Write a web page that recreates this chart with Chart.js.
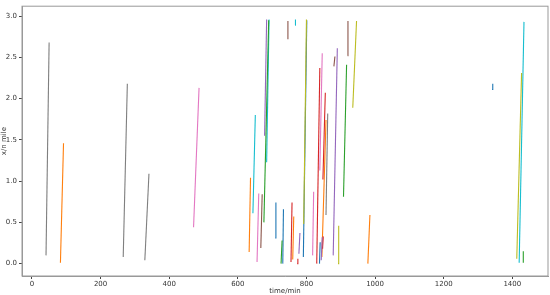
<!DOCTYPE html>
<html>
<head>
<meta charset="utf-8">
<script src="https://cdn.jsdelivr.net/npm/chart.js@4/dist/chart.umd.min.js"></script>
<style>
  html, body { margin: 0; padding: 0; background: #fff; }
  #wrap { width: 550px; height: 295px; }
</style>
</head>
<body>
<div id="wrap"><canvas id="chart"></canvas></div>
<script>
// each track segment: start (x0, y0) -> end (x1, y1)
const segX0 = [41, 83, 266, 329, 471, 633, 644, 656, 667, 676, 684, 678, 709, 726, 731, 746, 755, 760, 767, 773, 778, 792, 791, 818, 830, 839, 838, 843, 847, 848, 845, 857, 878, 880, 892, 908, 920, 935, 979, 1341, 1413, 1420, 1432];
const segY0 = [0.10, 0.01, 0.08, 0.04, 0.44, 0.14, 0.61, 0.02, 0.19, 0.50, 1.23, 1.55, 0.31, 0.00, 0.00, 2.72, 0.02, 0.05, 2.89, 0.00, 0.12, 0.48, 0.08, 0.10, 0.00, 1.13, 0.00, 0.04, 0.18, 1.02, 0.08, 0.59, 0.10, 2.39, 0.00, 0.81, 2.52, 1.89, 0.00, 2.11, 0.06, 0.01, 0.01];
const segX1 = [50, 92, 278, 341, 487, 637, 651, 661, 671, 690, 691, 684, 711, 729, 733, 746, 758, 763, 768, 775, 781, 800, 801, 821, 839, 846, 840, 846, 849, 855, 857, 862, 890, 883, 894, 917, 921, 946, 985, 1343, 1427, 1434, 1432];
const segY1 = [2.68, 1.46, 2.18, 1.09, 2.13, 1.04, 1.80, 0.85, 0.84, 2.95, 2.96, 2.96, 0.74, 0.28, 0.66, 2.94, 0.74, 0.57, 2.96, 0.06, 0.37, 2.96, 2.95, 0.87, 2.37, 2.55, 0.26, 0.32, 0.33, 2.07, 1.74, 1.82, 2.61, 2.51, 0.46, 2.41, 2.94, 2.94, 0.59, 2.18, 2.31, 2.93, 0.15];
const segColor = ['gray', 'orange', 'gray', 'gray', 'pink', 'orange', 'cyan', 'pink', 'brown', 'green', 'cyan', 'purple', 'blue', 'green', 'blue', 'brown', 'red', 'orange', 'cyan', 'red', 'purple', 'olive', 'blue', 'pink', 'red', 'pink', 'blue', 'purple', 'red', 'red', 'orange', 'gray', 'purple', 'brown', 'olive', 'green', 'brown', 'olive', 'orange', 'blue', 'olive', 'cyan', 'green'];

const xTicks = [0, 200, 400, 600, 800, 1000, 1200, 1400];
const yTicks = [0.0, 0.5, 1.0, 1.5, 2.0, 2.5, 3.0];

const tab10 = {
  blue: '#1f77b4', orange: '#ff7f0e', green: '#2ca02c', red: '#d62728', purple: '#9467bd',
  brown: '#8c564b', pink: '#e377c2', gray: '#7f7f7f', olive: '#bcbd22', cyan: '#17becf'
};

const datasets = segX0.map((x0, i) => ({
  data: [{ x: x0, y: segY0[i] }, { x: segX1[i], y: segY1[i] }],
  borderColor: tab10[segColor[i]],
  borderWidth: 1.1,
  pointRadius: 0,
  showLine: true,
  fill: false
}));

// matplotlib style frame on all four sides
const frame = {
  id: 'frame',
  afterDraw(chart) {
    const { ctx, chartArea: a } = chart;
    ctx.save();
    ctx.strokeStyle = '#999';
    ctx.lineWidth = 1;
    ctx.strokeRect(a.left, a.top, a.right - a.left, a.bottom - a.top);
    ctx.restore();
  }
};

const font = { family: 'DejaVu Sans', size: 7 };

new Chart(document.getElementById('chart'), {
  type: 'scatter',
  data: { datasets },
  plugins: [frame],
  options: {
    responsive: true,
    maintainAspectRatio: false,
    animation: false,
    layout: { padding: { top: 6, right: 2, left: 0, bottom: 0 } },
    plugins: { legend: { display: false }, tooltip: { enabled: false } },
    scales: {
      x: {
        type: 'linear',
        min: -29,
        max: 1504,
        afterBuildTicks: s => { s.ticks = xTicks.map(v => ({ value: v })); },
        afterFit: s => { s.height = 19; },
        grid: { drawOnChartArea: false, tickLength: 3, color: '#444' },
        border: { color: '#999' },
        ticks: { font, color: '#333', padding: 1, maxRotation: 0, callback: v => String(v) },
        title: { display: true, text: 'time/min', font, color: '#333', padding: 0 }
      },
      y: {
        type: 'linear',
        min: -0.15,
        max: 3.12,
        afterBuildTicks: s => { s.ticks = yTicks.map(v => ({ value: v })); },
        afterFit: s => { s.width = 22; },
        grid: { drawOnChartArea: false, tickLength: 3, color: '#444' },
        border: { color: '#999' },
        ticks: { font, color: '#333', padding: 2, callback: v => v.toFixed(1) },
        title: { display: true, text: 'x/n mile', font, color: '#333', padding: 0 }
      }
    }
  }
});
</script>
</body>
</html>
